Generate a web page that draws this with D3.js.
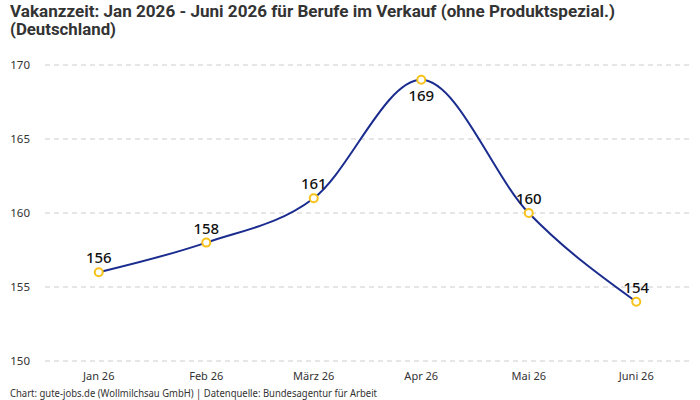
<!DOCTYPE html>
<html>
<head>
<meta charset="utf-8">
<script src="https://cdn.jsdelivr.net/npm/d3@7"></script>
<style>
  body { margin: 0; background: #fff; }
  svg { display: block; font-family: "Noto Sans", sans-serif; }
</style>
</head>
<body>
<svg id="chart" width="700" height="400"></svg>
<script>
// data
var months = ["Jan 26", "Feb 26", "März 26", "Apr 26", "Mai 26", "Juni 26"];
var vacancyDays = [156, 158, 161, 169, 160, 154];
var yTicks = [150, 155, 160, 165, 170];

var svg = d3.select("#chart");
var plotLeft = 45, plotRight = 690, plotTop = 65, plotBottom = 361;

var x = d3.scaleBand().domain(months).range([plotLeft, plotRight]);
var y = d3.scaleLinear().domain([150, 170]).range([plotBottom, plotTop]);

var cx = function (d, i) { return x(months[i]) + x.bandwidth() / 2; };

// title
var title = svg.append("text")
  .attr("fill", "#333")
  .style("font-family", "Roboto, sans-serif")
  .style("font-weight", "bold")
  .style("font-size", "16px");
title.append("tspan").attr("x", 10).attr("y", 17)
  .attr("textLength", 605).attr("lengthAdjust", "spacingAndGlyphs")
  .text("Vakanzzeit: Jan 2026 - Juni 2026 für Berufe im Verkauf (ohne Produktspezial.)");
title.append("tspan").attr("x", 10).attr("y", 35)
  .attr("textLength", 106).attr("lengthAdjust", "spacingAndGlyphs")
  .text("(Deutschland)");

// grid + y labels
svg.append("g").selectAll("line")
  .data(yTicks)
  .enter().append("line")
  .attr("x1", plotLeft).attr("x2", plotRight)
  .attr("y1", function (d) { return y(d); })
  .attr("y2", function (d) { return y(d); })
  .attr("stroke", "#ccc")
  .attr("stroke-dasharray", "5,4");

svg.append("g").selectAll("text")
  .data(yTicks)
  .enter().append("text")
  .attr("x", 30)
  .attr("y", function (d) { return y(d) + 4; })
  .attr("text-anchor", "end")
  .attr("fill", "#333")
  .style("font-size", "11.5px")
  .text(function (d) { return d; });

// x labels
svg.append("g").selectAll("text")
  .data(months)
  .enter().append("text")
  .attr("x", function (d) { return x(d) + x.bandwidth() / 2; })
  .attr("y", 380)
  .attr("text-anchor", "middle")
  .attr("fill", "#333")
  .style("font-size", "11px")
  .text(function (d) { return d; });

// line
var line = d3.line()
  .x(cx)
  .y(function (d) { return y(d); })
  .curve(d3.curveMonotoneX);

svg.append("path")
  .datum(vacancyDays)
  .attr("d", line)
  .attr("fill", "none")
  .attr("stroke", "#1b2c8f")
  .attr("stroke-width", 2);

// points
svg.append("g").selectAll("circle")
  .data(vacancyDays)
  .enter().append("circle")
  .attr("cx", cx)
  .attr("cy", function (d) { return y(d); })
  .attr("r", 4)
  .attr("fill", "#fff")
  .attr("stroke", "#f7c31a")
  .attr("stroke-width", 2);

// value labels, the peak goes below its point
var maxVal = d3.max(vacancyDays);
svg.append("g").selectAll("text")
  .data(vacancyDays)
  .enter().append("text")
  .attr("x", cx)
  .attr("y", function (d) {
    return d === maxVal ? y(d) + 21 : y(d) - 9;
  })
  .attr("text-anchor", "middle")
  .attr("fill", "#111")
  .style("font-size", "15px")
  .style("font-weight", "500")
  .text(function (d) { return d; });

// footer
svg.append("text")
  .attr("x", 10).attr("y", 397)
  .attr("fill", "#333")
  .style("font-size", "10px")
  .attr("textLength", 367).attr("lengthAdjust", "spacingAndGlyphs")
  .text("Chart: gute-jobs.de (Wollmilchsau GmbH) | Datenquelle: Bundesagentur für Arbeit");
</script>
</body>
</html>
